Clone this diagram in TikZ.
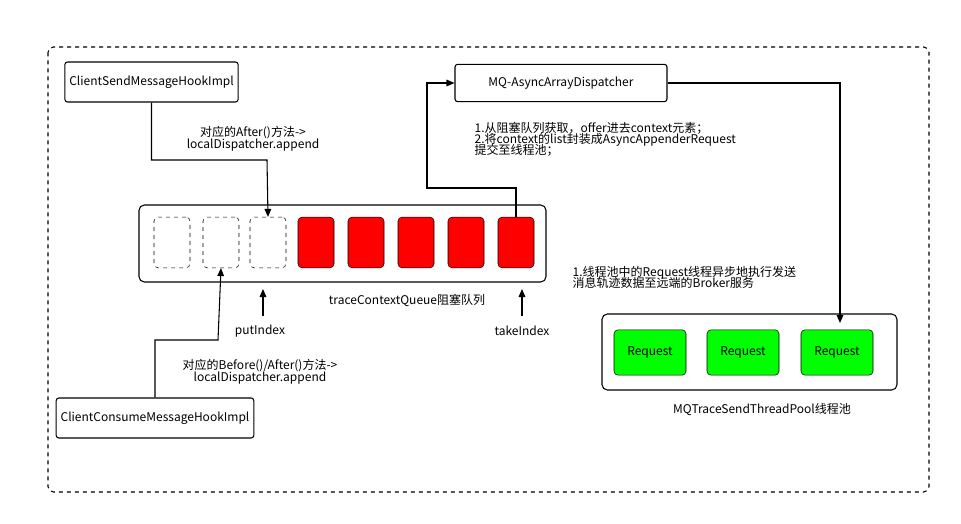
\documentclass[tikz,border=0pt]{standalone}
\usepackage{fontspec}
\setmainfont{Noto Sans CJK SC}
\usetikzlibrary{arrows.meta,positioning}

\tikzset{
    hookbox/.style={rectangle, draw, rounded corners=2pt, thick, text centered, font=\fontsize{9}{11}\selectfont},
    slotempty/.style={rectangle, draw, dashed, rounded corners=3pt, minimum width=27pt, minimum height=38pt},
    slotfull/.style={rectangle, draw, fill=red, rounded corners=3pt, minimum width=27pt, minimum height=38pt},
    reqbox/.style={rectangle, draw, fill=green, rounded corners=3pt, minimum width=54pt, minimum height=34pt, font=\fontsize{9}{11}\selectfont},
    note/.style={font=\fontsize{9}{11}\selectfont, align=center},
    flow/.style={thick, -{Triangle[length=6pt,width=5pt]}}
}

\begin{document}
\begin{tikzpicture}[x=0.75pt,y=-0.75pt]
    \useasboundingbox (0,0) rectangle (961,524);
    % outer frame
    \draw[thick, dashed, rounded corners=4pt] (48,47) rectangle (929,492);

    % hook boxes
    \node[hookbox, minimum width=123pt, minimum height=30pt] (send) at (151.5,82) {ClientSendMessageHo\\[-2pt]okImpl};
    \node[hookbox, minimum width=129pt, minimum height=30pt] (consume) at (155,418) {ClientConsumeMessage\\[-2pt]HookImpl};
    \node[hookbox, minimum width=159pt, minimum height=28pt] (dispatcher) at (561,83) {MQ-AsyncArrayDispatcher};

    % queue
    \draw[thick, rounded corners=4pt] (139,205) rectangle (546,282);
    \node[slotempty] (e1) at (172,242.5) {};
    \node[slotempty] (e2) at (221,242.5) {};
    \node[slotempty] (e3) at (268,242.5) {};
    \foreach \x/\n in {316/f1,366/f2,416/f3,466/f4,516/f5}
        \node[slotfull] (\n) at (\x,242.5) {};
    \node[note] (queue) at (407,301) {traceContextQueue阻塞队列};

    % index markers
    \coordinate (putbase) at (263,316);
    \coordinate (takebase) at (522,316);
    \node[note] (put) at (260,331) {putIndex};
    \node[note] (take) at (522,331) {takeIndex};
    \draw[flow] (putbase) -- (263,289);
    \draw[flow] (takebase) -- (522,289);

    % thread pool
    \draw[thick, rounded corners=4pt] (602,314) rectangle (897,390);
    \node[reqbox] (r1) at (650,352.5) {Request};
    \node[reqbox] (r2) at (743,352.5) {Request};
    \node[reqbox] (r3) at (837,352.5) {Request};
    \node[note] (pool) at (762,410) {MQTraceSendThreadPool线程池};

    % connectors
    \draw[flow] (send.south) |- (267,160) -- (e3.north);
    \draw[flow] (consume.north) |- (218,340) -- (e2.south);
    \draw[flow] (f5.north) |- (427,188) |- (dispatcher.west);
    \draw[flow] (dispatcher.east) -| (840,323);

    % notes
    \node[note] (sendnote) at (253,139) {对应的After()方法->\\[-2pt]localDispatcher.append};
    \node[note] (consumenote) at (260,372) {对应的Before()/After()方法->\\[-2pt]localDispatcher.append};
    \node[note, align=left, anchor=north west] (dispnote) at (470,118) {1.从阻塞队列获取，offer进去context元素；\\[-3pt]2.将context的list封装成AsyncAppenderRequest\\[-3pt]提交至线程池；};
    \node[note, align=left, anchor=north west] (poolnote) at (568,262) {1.线程池中的Request线程异步地执行发送\\[-3pt]消息轨迹数据至远端的Broker服务};
\end{tikzpicture}
\end{document}
